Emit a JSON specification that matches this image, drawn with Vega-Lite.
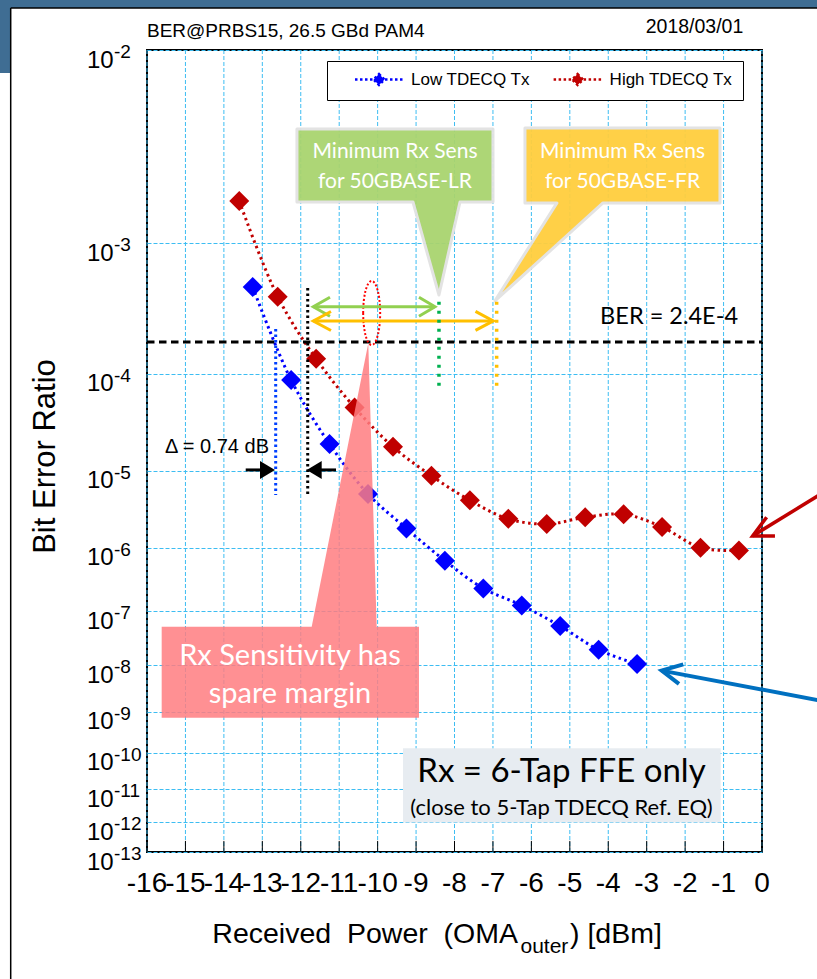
{
  "$schema": "https://vega.github.io/schema/vega-lite/v6.json",
  "width": 615,
  "height": 802,
  "autosize": {"type": "none"},
  "padding": {"left": 147, "top": 50, "right": 55, "bottom": 127},
  "background": "white",
  "config": {
    "view": {"stroke": "black", "strokeWidth": 2, "fill": "white"},
    "font": "Liberation Sans"
  },
  "datasets": {
    "ber": [
      {"series": "Low TDECQ Tx", "power_dBm": -13.25, "log10_ber": -3.30},
      {"series": "Low TDECQ Tx", "power_dBm": -12.25, "log10_ber": -4.06},
      {"series": "Low TDECQ Tx", "power_dBm": -11.25, "log10_ber": -4.70},
      {"series": "Low TDECQ Tx", "power_dBm": -10.25, "log10_ber": -5.28},
      {"series": "Low TDECQ Tx", "power_dBm": -9.25, "log10_ber": -5.73},
      {"series": "Low TDECQ Tx", "power_dBm": -8.25, "log10_ber": -6.19},
      {"series": "Low TDECQ Tx", "power_dBm": -7.25, "log10_ber": -6.62},
      {"series": "Low TDECQ Tx", "power_dBm": -6.25, "log10_ber": -6.90},
      {"series": "Low TDECQ Tx", "power_dBm": -5.25, "log10_ber": -7.26},
      {"series": "Low TDECQ Tx", "power_dBm": -4.25, "log10_ber": -7.70},
      {"series": "Low TDECQ Tx", "power_dBm": -3.25, "log10_ber": -7.98},
      {"series": "High TDECQ Tx", "power_dBm": -13.6, "log10_ber": -2.74},
      {"series": "High TDECQ Tx", "power_dBm": -12.6, "log10_ber": -3.37},
      {"series": "High TDECQ Tx", "power_dBm": -11.6, "log10_ber": -3.87},
      {"series": "High TDECQ Tx", "power_dBm": -10.6, "log10_ber": -4.32},
      {"series": "High TDECQ Tx", "power_dBm": -9.6, "log10_ber": -4.73},
      {"series": "High TDECQ Tx", "power_dBm": -8.6, "log10_ber": -5.06},
      {"series": "High TDECQ Tx", "power_dBm": -7.6, "log10_ber": -5.36},
      {"series": "High TDECQ Tx", "power_dBm": -6.6, "log10_ber": -5.60},
      {"series": "High TDECQ Tx", "power_dBm": -5.6, "log10_ber": -5.67},
      {"series": "High TDECQ Tx", "power_dBm": -4.6, "log10_ber": -5.58},
      {"series": "High TDECQ Tx", "power_dBm": -3.6, "log10_ber": -5.54},
      {"series": "High TDECQ Tx", "power_dBm": -2.6, "log10_ber": -5.71},
      {"series": "High TDECQ Tx", "power_dBm": -1.6, "log10_ber": -6.00},
      {"series": "High TDECQ Tx", "power_dBm": -0.6, "log10_ber": -6.04}
    ],
    "yticks": [
      {"exponent": -2}, {"exponent": -3}, {"exponent": -4}, {"exponent": -5},
      {"exponent": -6}, {"exponent": -7}, {"exponent": -8}, {"exponent": -9},
      {"exponent": -10}, {"exponent": -11}, {"exponent": -12}, {"exponent": -13}
    ],
    "xticks": [
      {"tick": -16}, {"tick": -15}, {"tick": -14}, {"tick": -13}, {"tick": -12}, {"tick": -11},
      {"tick": -10}, {"tick": -9}, {"tick": -8}, {"tick": -7}, {"tick": -6}, {"tick": -5},
      {"tick": -4}, {"tick": -3}, {"tick": -2}, {"tick": -1}, {"tick": 0}
    ]
  },
  "layer": [
    {
      "data": {"name": "xticks"},
      "mark": {"type": "rule", "color": "#3DBDF2", "strokeWidth": 1, "strokeDash": [4, 2]},
      "encoding": {"x": {"field": "tick", "type": "quantitative"}, "y": {"datum": -2}, "y2": {"datum": -13}}
    },
    {
      "data": {"name": "ber"},
      "mark": {"type": "line", "strokeDash": [2.5, 3.5], "strokeWidth": 3, "interpolate": "catmull-rom"},
      "encoding": {
        "x": {
          "field": "power_dBm", "type": "quantitative",
          "scale": {"domain": [-16, 0], "nice": false, "zero": false},
          "axis": {"title": null, "labels": false, "ticks": false, "grid": false, "domain": false}
        },
        "y": {
          "field": "log10_ber", "type": "quantitative",
          "scale": {"type": "pow", "exponent": -0.15, "domain": [-13, -2], "nice": false, "zero": false},
          "axis": {
            "title": "Bit Error Ratio",
            "values": [-2, -3, -4, -5, -6, -7, -8, -9, -10, -11, -12, -13],
            "labels": false, "ticks": false, "domain": false,
            "grid": true, "gridColor": "#3DBDF2", "gridDash": [4, 2], "gridWidth": 1,
            "titleFont": "Liberation Sans", "titleFontSize": 31, "titleFontWeight": "normal", "titleColor": "black",
            "titleAngle": 270, "titleX": -93, "titleY": 406, "titleAlign": "center", "titleBaseline": "alphabetic"
          }
        },
        "color": {
          "field": "series", "type": "nominal",
          "scale": {"domain": ["Low TDECQ Tx", "High TDECQ Tx"], "range": ["#0000FF", "#C00000"]},
          "legend": {
            "title": null, "orient": "none", "legendX": 180, "legendY": 11, "direction": "horizontal",
            "padding": 10, "strokeColor": "black", "fillColor": "white",
            "symbolType": "M-4.8,0L4.8,0M0,-1.1L1.1,0L0,1.1L-1.1,0Z",
            "symbolSize": 100, "symbolStrokeWidth": 2.5, "symbolDash": [2.5, 2.5], "symbolOffset": 33.5, "symbolOpacity": 1,
            "labelOffset": 23.5, "columnPadding": 4.6,
            "labelFont": "Liberation Sans", "labelFontSize": 17, "labelColor": "black",
            "labelExpr": "datum.label + '\u00a0\u00a0'",
            "encode": {"symbols": {"update": {"fill": {"scale": "color", "field": "value"}, "stroke": {"scale": "color", "field": "value"}}}}
          }
        }
      }
    },
    {
      "data": {"name": "ber"},
      "mark": {"type": "point", "shape": "diamond", "size": 400, "filled": true, "opacity": 1},
      "encoding": {
        "x": {"field": "power_dBm", "type": "quantitative"},
        "y": {"field": "log10_ber", "type": "quantitative"},
        "color": {"field": "series", "type": "nominal"}
      }
    },
    {
      "data": {"name": "xticks"},
      "mark": {"type": "rule", "color": "black", "strokeWidth": 1},
      "encoding": {"x": {"field": "tick", "type": "quantitative"}, "y": {"datum": -13}, "y2": {"datum": -12.618}}
    },
    {
      "data": {"name": "xticks"},
      "mark": {"type": "text", "align": "center", "baseline": "alphabetic", "dy": 40, "font": "Liberation Sans", "fontSize": 28, "color": "black"},
      "encoding": {"x": {"field": "tick", "type": "quantitative"}, "y": {"datum": -13}, "text": {"field": "tick", "type": "nominal"}}
    },
    {
      "data": {"name": "yticks"},
      "mark": {"type": "text", "text": "10", "align": "left", "baseline": "alphabetic", "dx": -60, "dy": 17.5, "font": "Liberation Sans", "fontSize": 24, "color": "black"},
      "encoding": {"x": {"datum": -16}, "y": {"field": "exponent", "type": "quantitative"}}
    },
    {
      "data": {"name": "yticks"},
      "mark": {"type": "text", "align": "left", "baseline": "alphabetic", "dx": -33, "dy": 8, "font": "Liberation Sans", "fontSize": 19, "color": "black"},
      "encoding": {"x": {"datum": -16}, "y": {"field": "exponent", "type": "quantitative"}, "text": {"field": "exponent", "type": "nominal"}}
    },
    {
      "data": {"values": [{}]},
      "layer": [
        {"mark": {"type": "rect", "color": "#3F6D93"}, "encoding": {"x": {"datum": -20}, "x2": {"datum": 1.5}, "y": {"datum": -1.75}, "y2": {"datum": -1.837}}},
        {"mark": {"type": "rect", "color": "#3F6D93"}, "encoding": {"x": {"datum": -20}, "x2": {"datum": -19.546}, "y": {"datum": -1.75}, "y2": {"datum": -2.096}}},
        {"mark": {"type": "rule", "color": "black", "strokeWidth": 1.5}, "encoding": {"x": {"datum": -19.546}, "y": {"datum": -1.837}, "y2": {"datum": -20}}},
        {"mark": {"type": "rule", "color": "black", "strokeWidth": 1.5}, "encoding": {"x": {"datum": -19.546}, "x2": {"datum": 1.5}, "y": {"datum": -1.837}}},

        {"mark": {"type": "text", "text": "BER@PRBS15, 26.5 GBd PAM4", "font": "Liberation Sans", "fontSize": 19, "color": "black", "align": "left", "baseline": "alphabetic", "dy": -12.7}, "encoding": {"x": {"datum": -16}, "y": {"datum": -2}}},
        {"mark": {"type": "text", "text": "2018/03/01", "font": "Liberation Sans", "fontSize": 19.5, "color": "black", "align": "right", "baseline": "alphabetic", "dy": -17.3}, "encoding": {"x": {"datum": -0.486}, "y": {"datum": -2}}},

        {"mark": {"type": "rule", "color": "black", "strokeWidth": 3, "strokeDash": [7.5, 4.5]}, "encoding": {"x": {"datum": -16}, "x2": {"datum": 0}, "y": {"datum": -3.726}}},
        {"mark": {"type": "text", "text": "BER = 2.4E-4", "font": "Lato", "fontSize": 23.5, "color": "black", "align": "right", "baseline": "middle"}, "encoding": {"x": {"datum": -0.624}, "y": {"datum": -3.522}}},

        {"mark": {"type": "point", "shape": "M0,0L21,-93L54,-93L54,-166L-142,-166L-142,-93L-26,-93Z", "size": 4, "filled": true, "color": "#A9D46F", "fill": "#A9D46F", "stroke": "#E2E2E2", "strokeWidth": 3, "strokeJoin": "round", "opacity": 0.95}, "encoding": {"x": {"datum": -8.404}, "y": {"datum": -3.358}}},
        {"mark": {"type": "point", "shape": "M0,0L108,-98L225,-98L225,-173L30,-173L30,-98L62,-98Z", "size": 4, "filled": true, "color": "#FFCE3E", "fill": "#FFCE3E", "stroke": "#E2E2E2", "strokeWidth": 3, "strokeJoin": "round", "opacity": 0.95}, "encoding": {"x": {"datum": -6.947}, "y": {"datum": -3.402}}},
        {"mark": {"type": "text", "text": ["Minimum Rx Sens", "for 50GBASE-LR"], "font": "Lato", "fontSize": 21, "lineHeight": 30, "color": "white", "align": "center", "baseline": "middle"}, "encoding": {"x": {"datum": -9.548}, "y": {"datum": -2.469}}},
        {"mark": {"type": "text", "text": ["Minimum Rx Sens", "for 50GBASE-FR"], "font": "Lato", "fontSize": 21, "lineHeight": 30, "color": "white", "align": "center", "baseline": "middle"}, "encoding": {"x": {"datum": -3.629}, "y": {"datum": -2.469}}},

        {"mark": {"type": "point", "shape": "M0,0L8.4,283.4L50.7,283.4L50.7,374.4L-206.6,374.4L-206.6,283.4L-56.6,283.4Z", "size": 4, "filled": true, "color": "#FF7C80", "fill": "#FF7C80", "strokeWidth": 0, "opacity": 0.85}, "encoding": {"x": {"datum": -10.243}, "y": {"datum": -3.737}}},
        {"mark": {"type": "text", "text": ["Rx Sensitivity has", "spare margin"], "font": "Lato", "fontSize": 29, "lineHeight": 38, "color": "white", "align": "center", "baseline": "middle"}, "encoding": {"x": {"datum": -12.28}, "y": {"datum": -7.819}}},

        {"mark": {"type": "point", "shape": "M-8.5,0A8.5,32,0,1,1,8.5,0A8.5,32,0,1,1,-8.5,0Z", "size": 4, "filled": false, "color": "#FF0000", "stroke": "#FF0000", "strokeWidth": 2, "strokeDash": [2, 2], "opacity": 1}, "encoding": {"x": {"datum": -10.155}, "y": {"datum": -3.494}}},

        {"mark": {"type": "rule", "color": "#92D050", "strokeWidth": 3}, "encoding": {"x": {"datum": -11.674}, "x2": {"datum": -8.508}, "y": {"datum": -3.446}}},
        {"mark": {"type": "point", "shape": "M16.7,-9.5L0,0L16.7,9.5", "size": 4, "filled": false, "color": "#92D050", "stroke": "#92D050", "strokeWidth": 3, "opacity": 1}, "encoding": {"x": {"datum": -11.674}, "y": {"datum": -3.446}}},
        {"mark": {"type": "point", "shape": "M-16,-9.5L0,0L-16,9.5", "size": 4, "filled": false, "color": "#92D050", "stroke": "#92D050", "strokeWidth": 3, "opacity": 1}, "encoding": {"x": {"datum": -8.508}, "y": {"datum": -3.446}}},
        {"mark": {"type": "rule", "color": "#FFC000", "strokeWidth": 3}, "encoding": {"x": {"datum": -11.674}, "x2": {"datum": -6.991}, "y": {"datum": -3.556}}},
        {"mark": {"type": "point", "shape": "M17.7,-9.5L0,0L17.7,9.5", "size": 4, "filled": false, "color": "#FFC000", "stroke": "#FFC000", "strokeWidth": 3, "opacity": 1}, "encoding": {"x": {"datum": -11.674}, "y": {"datum": -3.556}}},
        {"mark": {"type": "point", "shape": "M-17.8,-9.5L0,0L-17.8,9.5", "size": 4, "filled": false, "color": "#FFC000", "stroke": "#FFC000", "strokeWidth": 3, "opacity": 1}, "encoding": {"x": {"datum": -6.991}, "y": {"datum": -3.556}}},

        {"mark": {"type": "rule", "color": "#00B050", "strokeWidth": 3.5, "strokeDash": [3, 6]}, "encoding": {"x": {"datum": -8.404}, "y": {"datum": -3.408}, "y2": {"datum": -4.114}}},
        {"mark": {"type": "rule", "color": "#FFC000", "strokeWidth": 3.5, "strokeDash": [3, 6]}, "encoding": {"x": {"datum": -6.903}, "y": {"datum": -3.408}, "y2": {"datum": -4.114}}},
        {"mark": {"type": "rule", "color": "#0040FF", "strokeWidth": 3, "strokeDash": [2.5, 3]}, "encoding": {"x": {"datum": -12.652}, "y": {"datum": -3.62}, "y2": {"datum": -5.293}}},
        {"mark": {"type": "rule", "color": "black", "strokeWidth": 3, "strokeDash": [2.5, 3]}, "encoding": {"x": {"datum": -11.819}, "y": {"datum": -3.307}, "y2": {"datum": -5.293}}},

        {"mark": {"type": "rule", "color": "black", "strokeWidth": 3}, "encoding": {"x": {"datum": -13.432}, "x2": {"datum": -13.008}, "y": {"datum": -4.991}}},
        {"mark": {"type": "point", "shape": "M0,0L-15,-9L-15,9Z", "size": 4, "filled": true, "color": "black", "opacity": 1}, "encoding": {"x": {"datum": -12.67}, "y": {"datum": -4.991}}},
        {"mark": {"type": "rule", "color": "black", "strokeWidth": 3}, "encoding": {"x": {"datum": -11.5}, "x2": {"datum": -11.083}, "y": {"datum": -4.991}}},
        {"mark": {"type": "point", "shape": "M0,0L15,-9L15,9Z", "size": 4, "filled": true, "color": "black", "opacity": 1}, "encoding": {"x": {"datum": -11.845}, "y": {"datum": -4.991}}},
        {"mark": {"type": "text", "text": "\u0394 = 0.74 dB", "font": "Liberation Sans", "fontSize": 20, "color": "black", "align": "center", "baseline": "middle"}, "encoding": {"x": {"datum": -14.179}, "y": {"datum": -4.728}}},

        {"mark": {"type": "rule", "color": "#C00000", "strokeWidth": 3.5}, "encoding": {"x": {"datum": -0.243}, "x2": {"datum": 1.768}, "y": {"datum": -5.832}, "y2": {"datum": -5.212}}},
        {"mark": {"type": "point", "shape": "M14,-18.7L0,0L22.3,0", "size": 4, "filled": false, "color": "#C00000", "stroke": "#C00000", "strokeWidth": 3.5, "opacity": 1}, "encoding": {"x": {"datum": -0.243}, "y": {"datum": -5.832}}},
        {"mark": {"type": "rule", "color": "#0070C0", "strokeWidth": 4}, "encoding": {"x": {"datum": -2.61}, "x2": {"datum": 1.768}, "y": {"datum": -8.112}, "y2": {"datum": -8.79}}},
        {"mark": {"type": "point", "shape": "M21.6,-6.2L0,0L17.3,13.3", "size": 4, "filled": false, "color": "#0070C0", "stroke": "#0070C0", "strokeWidth": 4, "opacity": 1}, "encoding": {"x": {"datum": -2.61}, "y": {"datum": -8.112}}},

        {"mark": {"type": "rect", "color": "#E7ECF1"}, "encoding": {"x": {"datum": -9.34}, "x2": {"datum": -1.075}, "y": {"datum": -9.886}, "y2": {"datum": -12.016}}},
        {"mark": {"type": "text", "text": "Rx = 6-Tap FFE only", "font": "Lato", "fontSize": 33, "color": "black", "align": "center", "baseline": "middle"}, "encoding": {"x": {"datum": -5.217}, "y": {"datum": -10.505}}},
        {"mark": {"type": "text", "text": "(close to 5-Tap TDECQ Ref. EQ)", "font": "Lato", "fontSize": 22, "color": "black", "align": "center", "baseline": "middle"}, "encoding": {"x": {"datum": -5.217}, "y": {"datum": -11.565}}},

        {"mark": {"type": "text", "text": "Received\u00a0\u00a0Power\u00a0\u00a0(OMA", "font": "Liberation Sans", "fontSize": 28.5, "color": "black", "align": "right", "baseline": "alphabetic", "dy": 91}, "encoding": {"x": {"datum": -6.348}, "y": {"datum": -13}}},
        {"mark": {"type": "text", "text": "outer", "font": "Liberation Sans", "fontSize": 21, "color": "black", "align": "left", "baseline": "alphabetic", "dy": 101}, "encoding": {"x": {"datum": -6.283}, "y": {"datum": -13}}},
        {"mark": {"type": "text", "text": ")\u00a0[dBm]", "font": "Liberation Sans", "fontSize": 28.5, "color": "black", "align": "left", "baseline": "alphabetic", "dy": 91}, "encoding": {"x": {"datum": -4.995}, "y": {"datum": -13}}}
      ]
    }
  ]
}
